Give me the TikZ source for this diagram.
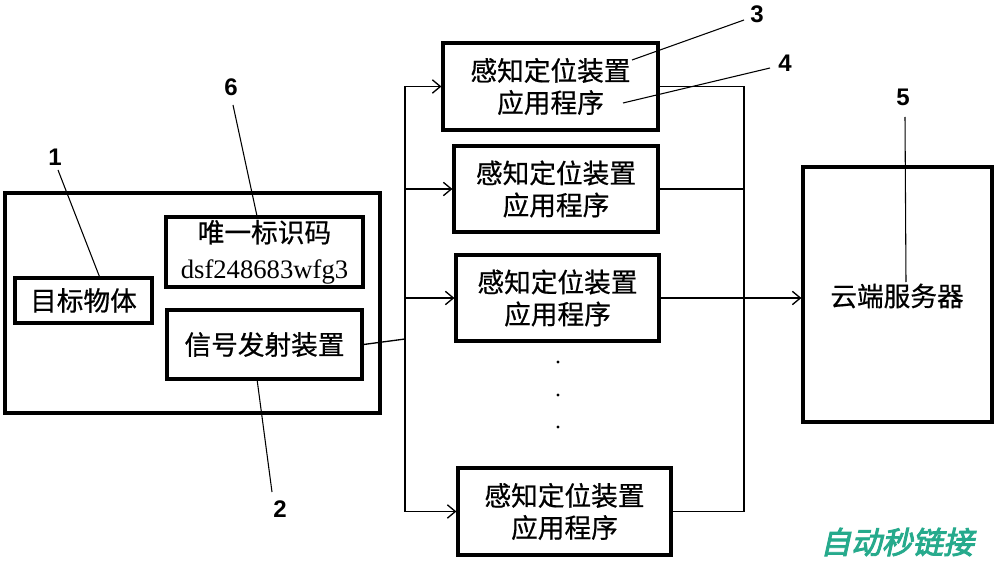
\documentclass[tikz,border=0pt]{standalone}
\usepackage{fontspec}
\setmainfont{Liberation Serif}
\setsansfont{Liberation Sans}
\newfontfamily\cjk[FakeBold=0.6]{Noto Sans CJK SC}
\newfontfamily\wmfont[FakeSlant=0.22,FakeBold=3]{Noto Sans CJK SC}
\usetikzlibrary{arrows.meta}
\definecolor{wmgreen}{RGB}{38,170,140}
\tikzset{
  box/.style={draw, line width=2.4pt, inner sep=0pt, align=center,
    font=\cjk\fontsize{20}{24}\selectfont},
  conn/.style={line width=1pt},
  arr/.style={conn, -{Straight Barb[length=6pt,width=10pt,line width=1pt]}},
  lead/.style={line width=0.8pt},
  numlbl/.style={inner sep=0pt, font=\sffamily\bfseries\fontsize{18}{20}\selectfont},
}
\begin{document}
\begin{tikzpicture}[x=0.75pt,y=-0.75pt]
\useasboundingbox (0,0) rectangle (1000,563);
% left group
\node[box, minimum width=281.25pt, minimum height=165pt] (outer) at (192.5,303) {};
\node[box, minimum width=102.75pt, minimum height=33.75pt] (obj) at (83.5,300.5) {目标物体};
\node[box, minimum width=147.75pt, minimum height=52.5pt,
  font=\fontsize{20}{27}\selectfont] (uid) at (264.5,252) {{\cjk 唯一标识码}\\dsf248683wfg3};
\node[box, minimum width=146.25pt, minimum height=51.75pt] (sig) at (264.5,344.5) {信号发射装置};
% application boxes
\node[box, minimum width=161.25pt, minimum height=65.25pt] (b1) at (550.5,86.5) {感知定位装置\\应用程序};
\node[box, minimum width=153pt, minimum height=64.5pt] (b2) at (556,189) {感知定位装置\\应用程序};
\node[box, minimum width=152.25pt, minimum height=64.5pt] (b3) at (557.5,298) {感知定位装置\\应用程序};
\node[box, minimum width=159.75pt, minimum height=65.25pt] (b4) at (564.5,511.5) {感知定位装置\\应用程序};
% server
\node[box, minimum width=141.75pt, minimum height=191.25pt] (srv) at (897.5,294.5) {};
\node[font=\cjk\fontsize{20}{24}\selectfont, inner sep=0pt] (srvt) at (897,296) {云端服务器};
% dots
\fill (558,362) circle (1.3pt);
\fill (558,395) circle (1.3pt);
\fill (558,427) circle (1.3pt);
% left bus
\coordinate (jL) at (405,339);
\draw[conn] (sig.east) -- (jL);
\draw[arr] (jL) |- (b1.west);
\draw[arr] (jL) |- (b2.west);
\draw[arr] (jL) |- (b3.west);
\draw[arr] (jL) |- (b4.west);
% right bus
\coordinate (jR) at (744,298);
\draw[conn] (b1.east) -| (jR);
\draw[conn] (b2.east) -| (jR);
\draw[conn] (b4.east) -| (jR);
\draw[arr] (b3.east) -- (srv.west |- b3.east);
% labels
\node[numlbl] (l1) at (55,157) {1};
\node[numlbl] (l2) at (280,509) {2};
\node[numlbl] (l3) at (757,14) {3};
\node[numlbl] (l4) at (785,63) {4};
\node[numlbl] (l5) at (903,97) {5};
\node[numlbl] (l6) at (231,87) {6};
\coordinate (s1) at (58,170); \coordinate (e1) at (100,278);
\coordinate (s2) at (272,492); \coordinate (e2) at (257,379);
\coordinate (s3) at (744,20); \coordinate (e3) at (632,60);
\coordinate (s4) at (770,68); \coordinate (e4) at (623,103);
\coordinate (s5) at (905,117); \coordinate (e5) at (906,282);
\coordinate (s6) at (233,105); \coordinate (e6) at (257,216);
\draw[lead] (s1) -- (e1);
\draw[lead] (s2) -- (e2);
\draw[lead] (s3) -- (e3);
\draw[lead] (s4) -- (e4);
\draw[lead] (s5) -- (e5);
\draw[lead] (s6) -- (e6);
% watermark
\node[text=wmgreen, font=\wmfont\fontsize{23}{26}\selectfont, inner sep=0pt] (wm) at (897,542) {自动秒链接};
\end{tikzpicture}
\end{document}
